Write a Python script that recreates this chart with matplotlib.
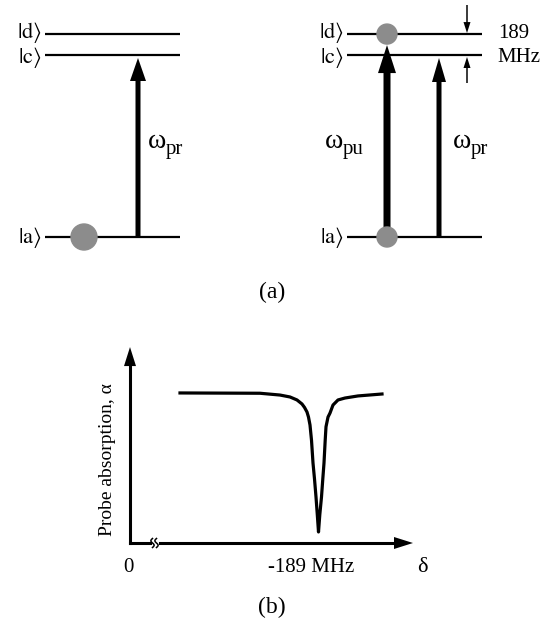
import matplotlib
matplotlib.use('Agg')
import matplotlib.pyplot as plt
from matplotlib.patches import Circle
import numpy as np

plt.rcParams['mathtext.fontset'] = 'stix'
plt.rcParams['font.family'] = ['Liberation Serif', 'DejaVu Serif']

# ---------------- data ----------------
level_names = ['a', 'c', 'd']
level_energy = [0.0, 1.0, 1.115]          # schematic energies (|a> = 0, |c> = 1)
splitting_text = ['189', 'MHz']
beam_labels = ['pu', 'pr']

# probe absorption spectrum, detuning in MHz magnitude
delta = [50, 130, 150, 160, 167, 172, 174.5, 177, 178.5, 180, 181.5, 183, 184.5,
         186, 187.3, 188.5, 189.8, 191.5, 192.8, 194, 195.2, 196, 198, 200, 203,
         208, 215, 228, 252]
alpha = [1.007, 1.005, 0.993, 0.980, 0.960, 0.933, 0.91, 0.879, 0.845, 0.792,
         0.69, 0.537, 0.43, 0.309, 0.19, 0.074, 0.19, 0.309, 0.43, 0.537, 0.69,
         0.78, 0.845, 0.872, 0.926, 0.960, 0.973, 0.987, 1.0]
tick_labels = ['0', '-189 MHz']
xlabel = 'δ'
ylabel = 'Probe absorption, α'

GRAY = '#8c8c8c'

fig = plt.figure(figsize=(5.52, 6.26), dpi=100)
ax = fig.add_axes([0, 0, 1, 1])
ax.set_xlim(0, 552)
ax.set_ylim(626, 0)
ax.axis('off')

def ey(E):
    return 237 - E * 182.0

lev = dict(zip(level_names, level_energy))
label_shift = {'a': 0, 'c': 2, 'd': -2}

# ---------------- panel (a) ----------------
for panel_x0, panel_x1 in [(45, 180), (347, 482)]:
    for name in level_names:
        y = ey(lev[name])
        ax.plot([panel_x0, panel_x1], [y, y], color='k', lw=1.6, solid_capstyle='butt')
        ax.text(panel_x0 - 3, y + label_shift[name], r'$|\mathrm{%s}\rangle$' % name,
                ha='right', va='center', fontsize=16)

def omega(x, y, sub):
    ax.text(x, y, 'ω', ha='left', va='baseline', fontsize=20)
    ax.text(x + 18, y + 6, sub, ha='left', va='baseline', fontsize=15)

# left: atom in |a>, probe arrow
ax.add_patch(Circle((84, ey(lev['a'])), 13, color=GRAY, zorder=3))
ax.arrow(138, ey(lev['a']), 0, ey(lev['c']) + 3 - ey(lev['a']), width=5,
         head_width=16, head_length=23, length_includes_head=True,
         color='k', lw=0, zorder=2)
omega(148, 148, beam_labels[1])

# right: pump + probe
ax.add_patch(Circle((387, ey(lev['a'])), 10, color=GRAY, zorder=3))
ax.add_patch(Circle((387, ey(lev['d'])), 10, color=GRAY, zorder=3))
ax.arrow(387, ey(lev['a']), 0, ey(lev['d']) + 11 - ey(lev['a']), width=7,
         head_width=18, head_length=28, length_includes_head=True,
         color='k', lw=0, zorder=2)
ax.arrow(439, ey(lev['a']), 0, ey(lev['c']) + 3 - ey(lev['a']), width=5,
         head_width=14, head_length=24, length_includes_head=True,
         color='k', lw=0, zorder=2)
omega(325, 148, beam_labels[0])
omega(453, 148, beam_labels[1])

# splitting markers
ax.arrow(467, 5, 0, ey(lev['d']) - 1 - 5, width=1.5, head_width=7,
         head_length=11, length_includes_head=True, color='k', lw=0)
ax.arrow(467, 83, 0, ey(lev['c']) + 2 - 83, width=1.5, head_width=7,
         head_length=11, length_includes_head=True, color='k', lw=0)
ax.text(498, 34, splitting_text[0], ha='left', va='center', fontsize=15)
ax.text(497, 58, splitting_text[1], ha='left', va='center', fontsize=15)

ax.text(272, 292, '(a)', ha='center', va='center', fontsize=17)

# ---------------- panel (b) ----------------
ax2 = fig.add_axes([0, 0, 1, 1], facecolor='none')
ax2.set_xlim(-130, 422)
ax2.set_ylim(-83 / 149.0, 543 / 149.0)
ax2.axis('off')

ax2.plot(delta, alpha, color='k', lw=2.3, solid_joinstyle='round')

def to_px(x, y):
    return ax.transData.inverted().transform(ax2.transData.transform((x, y)))

o = to_px(0, 0)
ytip = to_px(0, 1.315)
xtip = to_px(283, 0)
brk0 = to_px(20, 0)
brk1 = to_px(30, 0)

# y axis with arrow
ax.plot([o[0], o[0]], [o[1], ytip[1] + 15], color='k', lw=2.2, solid_capstyle='projecting')
ax.arrow(o[0], ytip[1] + 19, 0, -19, width=0.1, head_width=12, head_length=19,
         length_includes_head=True, color='k', lw=0)
# x axis with break and arrow
ax.plot([o[0], brk0[0]], [o[1], o[1]], color='k', lw=2.2, solid_capstyle='projecting')
ax.plot([brk1[0], xtip[0] - 15], [o[1], o[1]], color='k', lw=2.2)
ax.arrow(xtip[0] - 19, o[1], 19, 0, width=0.1, head_width=12, head_length=19,
         length_includes_head=True, color='k', lw=0)
t = np.linspace(-1, 1, 40)
for xb in (brk0[0] + 2.5, brk0[0] + 6.5):
    ax.plot(xb + 1.6 * np.sin(np.pi * t), o[1] + 4.5 * t, color='k', lw=1.1)

ax.text(o[0] - 2, 568, tick_labels[0], ha='center', va='center', fontsize=15)
ax.text(to_px(181, 0)[0], 568, tick_labels[1], ha='center', va='center', fontsize=15)
ax.text(422, 568, xlabel, ha='center', va='center', fontsize=16)
ax.text(108, 460, ylabel, ha='center', va='center', rotation=90, fontsize=14)

ax.text(272, 607, '(b)', ha='center', va='center', fontsize=17)

fig.savefig('out.png', dpi=100)
